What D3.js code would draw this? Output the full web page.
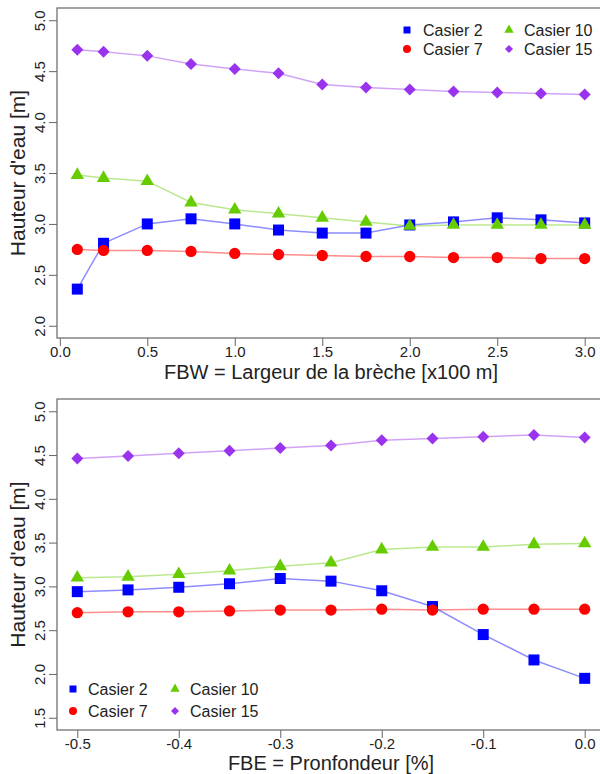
<!DOCTYPE html>
<html>
<head>
<meta charset="utf-8">
<script src="https://cdn.jsdelivr.net/npm/d3@7"></script>
<style>
  body { margin: 0; background: #fff; }
  svg { display: block; font-family: "Liberation Sans", Arial, sans-serif; }
</style>
</head>
<body>
<div id="chart"></div>
<script>
// Series names, colours and symbols
const casiers = ["Casier 2", "Casier 7", "Casier 10", "Casier 15"];
const colors = ["#0000ff", "#ff0000", "#66cc00", "#9933ee"];

// Top panel: FBW (breach width, x100 m)
const fbw = [0.1, 0.25, 0.5, 0.75, 1.0, 1.25, 1.5, 1.75, 2.0, 2.25, 2.5, 2.75, 3.0];
const fbwC2 = [2.36, 2.81, 3.00, 3.05, 3.00, 2.94, 2.91, 2.91, 2.99, 3.02, 3.06, 3.04, 3.01];
const fbwC7 = [2.75, 2.74, 2.74, 2.73, 2.71, 2.70, 2.69, 2.68, 2.68, 2.67, 2.67, 2.66, 2.66];
const fbwC10 = [3.48, 3.45, 3.42, 3.21, 3.14, 3.10, 3.06, 3.02, 2.98, 2.99, 2.99, 2.99, 2.99];
const fbwC15 = [4.71, 4.69, 4.65, 4.57, 4.52, 4.48, 4.37, 4.34, 4.32, 4.30, 4.29, 4.28, 4.27];
const fbwTicks = [0, 0.5, 1.0, 1.5, 2.0, 2.5, 3.0];
const fbwYTicks = [2.0, 2.5, 3.0, 3.5, 4.0, 4.5, 5.0];

// Bottom panel: FBE (depth, %)
const fbe = [-0.5, -0.45, -0.4, -0.35, -0.3, -0.25, -0.2, -0.15, -0.1, -0.05, 0];
const fbeC2 = [2.94, 2.96, 2.99, 3.03, 3.09, 3.06, 2.95, 2.77, 2.45, 2.16, 1.95];
const fbeC7 = [2.70, 2.71, 2.71, 2.72, 2.73, 2.73, 2.74, 2.73, 2.74, 2.74, 2.74];
const fbeC10 = [3.10, 3.11, 3.14, 3.18, 3.23, 3.27, 3.42, 3.45, 3.45, 3.48, 3.49];
const fbeC15 = [4.46, 4.49, 4.52, 4.55, 4.58, 4.61, 4.67, 4.69, 4.71, 4.73, 4.70];
const fbeTicks = [-0.5, -0.4, -0.3, -0.2, -0.1, 0];
const fbeYTicks = [1.5, 2.0, 2.5, 3.0, 3.5, 4.0, 4.5, 5.0];

const width = 600, height = 774;
const left = 57, right = 605;
const axisCol = "#666", textCol = "#222";

const svg = d3.select("#chart").append("svg")
    .attr("width", width)
    .attr("height", height);

// marker shapes: square, circle, triangle, diamond
const shapes = [d3.symbolSquare, d3.symbolCircle, d3.symbolTriangle, d3.symbolSquare];
const bigSize = [121, 100, 78, 72];
const smallSize = [49, 50, 38, 32];
const rot = [0, 0, 0, 45];

const panels = [
  {
    top: 8, bottom: 338,
    xDomain: [-0.016, 3.116], yDomain: [1.88, 5.12],
    xs: fbw, series: [fbwC2, fbwC7, fbwC10, fbwC15],
    xTicks: fbwTicks, yTicks: fbwYTicks,
    xTitle: "FBW = Largeur de la brèche [x100 m]", xTitleY: 379,
    legend: {mx: [407, 509], tx: [423, 524], ry: [30, 49]}
  },
  {
    top: 399, bottom: 730,
    xDomain: [-0.52, 0.02], yDomain: [1.36, 5.14],
    xs: fbe, series: [fbeC2, fbeC7, fbeC10, fbeC15],
    xTicks: fbeTicks, yTicks: fbeYTicks,
    xTitle: "FBE = Pronfondeur [%]", xTitleY: 770,
    legend: {mx: [73, 175], tx: [88, 190], ry: [689, 711]}
  }
];

panels.forEach(p => {
  const x = d3.scaleLinear().domain(p.xDomain).range([left, right]);
  const y = d3.scaleLinear().domain(p.yDomain).range([p.bottom, p.top]);
  const g = svg.append("g");

  // plot frame
  g.append("rect")
      .attr("x", left).attr("y", p.top)
      .attr("width", right - left).attr("height", p.bottom - p.top)
      .attr("fill", "none").attr("stroke", axisCol).attr("stroke-width", 1.2);

  // y axis, labels rotated like R's default
  const ya = g.append("g")
      .attr("transform", `translate(${left},0)`)
      .call(d3.axisLeft(y).tickValues(p.yTicks).tickSize(8).tickFormat(d => d.toFixed(1)));
  ya.select(".domain").remove();
  ya.selectAll("line").attr("stroke", axisCol);
  ya.selectAll("text")
      .attr("transform", "rotate(-90)")
      .attr("x", 0).attr("y", -12).attr("dy", 0)
      .attr("text-anchor", "middle")
      .attr("fill", textCol)
      .style("font-size", "15px");

  // x axis
  const xa = g.append("g")
      .attr("transform", `translate(0,${p.bottom})`)
      .call(d3.axisBottom(x).tickValues(p.xTicks).tickSize(8).tickFormat(d => d.toFixed(1)));
  xa.select(".domain").remove();
  xa.selectAll("line").attr("stroke", axisCol);
  xa.selectAll("text")
      .attr("y", 8)
      .attr("fill", textCol)
      .style("font-size", "15px");

  // axis titles
  g.append("text")
      .attr("x", (left + right) / 2).attr("y", p.xTitleY)
      .attr("text-anchor", "middle")
      .attr("fill", textCol)
      .style("font-size", "20px")
      .text(p.xTitle);
  g.append("text")
      .attr("transform", `translate(25,${(p.top + p.bottom) / 2}) rotate(-90)`)
      .attr("text-anchor", "middle")
      .attr("fill", textCol)
      .style("font-size", "21px")
      .text("Hauteur d'eau [m]");

  // lines
  const line = d3.line().x(d => x(d[0])).y(d => y(d[1]));
  p.series.forEach((vals, i) => {
    const pts = p.xs.map((v, j) => [v, vals[j]]);
    g.append("path")
        .datum(pts)
        .attr("d", line)
        .attr("fill", "none")
        .attr("stroke", colors[i])
        .attr("stroke-opacity", 0.45)
        .attr("stroke-width", 1.5);
  });

  // markers
  p.series.forEach((vals, i) => {
    const pts = p.xs.map((v, j) => [v, vals[j]]);
    g.append("g").selectAll("path")
      .data(pts)
      .join("path")
        .attr("d", d3.symbol(shapes[i], bigSize[i]))
        .attr("transform", d => `translate(${x(d[0])},${y(d[1])}) rotate(${rot[i]})`)
        .attr("fill", colors[i]);
  });

  // legend (2 columns x 2 rows)
  const lg = g.append("g");
  casiers.forEach((name, i) => {
    const col = Math.floor(i / 2), row = i % 2;
    lg.append("path")
        .attr("d", d3.symbol(shapes[i], smallSize[i]))
        .attr("transform", `translate(${p.legend.mx[col]},${p.legend.ry[row]}) rotate(${rot[i]})`)
        .attr("fill", colors[i]);
    lg.append("text")
        .attr("x", p.legend.tx[col]).attr("y", p.legend.ry[row])
        .attr("dy", "0.36em")
        .attr("fill", textCol)
        .style("font-size", "16px")
        .text(name);
  });
});
</script>
</body>
</html>
